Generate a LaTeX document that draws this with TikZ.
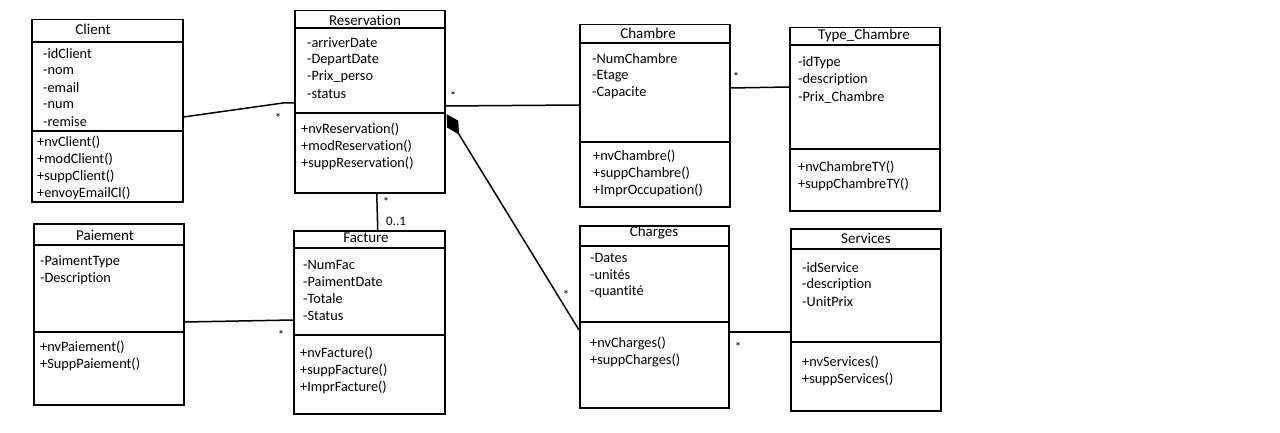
\documentclass[tikz,border=0pt]{standalone}
\usepackage{fontspec}
\setmainfont{Carlito}[Ligatures=NoCommon]
\usetikzlibrary{arrows.meta,calc}
\newcommand\memberlist[4]{%
  \foreach \t [count=\i] in {#4} {\node[txt] (#1\i) at (#2,{#3+17*(\i-1)}) {\t};}}
\begin{document}
\begin{tikzpicture}[x=1pt,y=-1pt,
  box/.style={draw,line width=1.5pt,inner sep=0pt,anchor=north west},
  sep/.style={line width=1.5pt},
  txt/.style={anchor=west,inner sep=0pt,font=\fontsize{14.3}{17}\selectfont},
  ttl/.style={inner sep=0pt,font=\fontsize{15}{18}\selectfont},
  conn/.style={line width=1.5pt},
  mult/.style={inner sep=0pt,font=\fontsize{13}{15}\selectfont}]
\fill[white] (0,0) rectangle (1280,433);
\useasboundingbox (0,0) rectangle (1280,433);

% ---------- Client
\node[box,minimum width=151pt,minimum height=182pt] (Client) at (31,19) {};
\draw[sep] (Client.west |- 0,42) -- (Client.east |- 0,42);
\draw[sep] (Client.west |- 0,131) -- (Client.east |- 0,131);
\node[ttl] (ClientT) at (93,29) {Client};
\memberlist{ca}{43}{54}{-idClient,-nom,-email,-num,-remise}
\memberlist{cm}{37}{142}{+nvClient(),+modClient(),+suppClient(),+envoyEmailCl()}

% ---------- Reservation
\node[box,minimum width=150pt,minimum height=182pt] (Reservation) at (294,10) {};
\draw[sep] (Reservation.west |- 0,28) -- (Reservation.east |- 0,28);
\draw[sep] (Reservation.west |- 0,113) -- (Reservation.east |- 0,113);
\node[ttl] (ReservationT) at (365,20) {Reservation};
\memberlist{ra}{307}{43}{-arriverDate,-DepartDate,-Prix\_perso,-status}
\memberlist{rm}{301}{129}{+nvReservation(),+modReservation(),+suppReservation()}

% ---------- Chambre
\node[box,minimum width=150pt,minimum height=182pt] (Chambre) at (579,24) {};
\draw[sep] (Chambre.west |- 0,43) -- (Chambre.east |- 0,43);
\draw[sep] (Chambre.west |- 0,142) -- (Chambre.east |- 0,142);
\node[ttl] (ChambreT) at (648,33) {Chambre};
\memberlist{cha}{592}{59}{-NumChambre,-Etage,-Capacite}
\memberlist{chm}{593}{156}{+nvChambre(),+suppChambre(),+ImprOccupation()}

% ---------- Type_Chambre
\node[box,minimum width=150pt,minimum height=183pt] (TypeChambre) at (789,27) {};
\draw[sep] (TypeChambre.west |- 0,45) -- (TypeChambre.east |- 0,45);
\draw[sep] (TypeChambre.west |- 0,149) -- (TypeChambre.east |- 0,149);
\node[ttl] (TypeChambreT) at (864,36) {Type\_Chambre};
\memberlist{ta}{798}{63}{-idType,-description,-Prix\_Chambre}
\memberlist{tm}{798}{167}{+nvChambreTY(),+suppChambreTY()}

% ---------- Paiement
\node[box,minimum width=150pt,minimum height=181pt] (Paiement) at (33,223) {};
\draw[sep] (Paiement.west |- 0,245) -- (Paiement.east |- 0,245);
\draw[sep] (Paiement.west |- 0,332) -- (Paiement.east |- 0,332);
\node[ttl] (PaiementT) at (105,235) {Paiement};
\memberlist{pa}{40}{262}{-PaimentType,-Description}
\memberlist{pm}{40}{347}{+nvPaiement(),+SuppPaiement()}

% ---------- Facture
\node[box,minimum width=151pt,minimum height=183pt] (Facture) at (293,230) {};
\draw[sep] (Facture.west |- 0,248) -- (Facture.east |- 0,248);
\draw[sep] (Facture.west |- 0,335) -- (Facture.east |- 0,335);
\node[ttl] (FactureT) at (366,238) {Facture};
\memberlist{fa}{303}{265}{-NumFac,-PaimentDate,-Totale,-Status}
\memberlist{fm}{300}{353}{+nvFacture(),+suppFacture(),+ImprFacture()}

% ---------- Charges
\node[box,minimum width=149pt,minimum height=182pt] (Charges) at (579,225) {};
\draw[sep] (Charges.west |- 0,246) -- (Charges.east |- 0,246);
\draw[sep] (Charges.west |- 0,322) -- (Charges.east |- 0,322);
\node[ttl] (ChargesT) at (654,233) {Charges};
\memberlist{ga}{590}{258}{-Dates,-unités,-quantité}
\memberlist{gm}{590}{343}{+nvCharges(),+suppCharges()}

% ---------- Services
\node[box,minimum width=150pt,minimum height=182pt] (Services) at (790,228) {};
\draw[sep] (Services.west |- 0,249) -- (Services.east |- 0,249);
\draw[sep] (Services.west |- 0,342) -- (Services.east |- 0,342);
\node[ttl] (ServicesT) at (866,238) {Services};
\memberlist{sa}{802}{268}{-idService,-description,-UnitPrix}
\memberlist{sm}{802}{362}{+nvServices(),+suppServices()}

% ---------- connectors
\coordinate (bendCR) at (283,103);
\draw[conn] (Client.east |- 0,117) -- (bendCR) -- (Reservation.west |- 0,103);
\draw[conn] (Reservation.east |- 0,106) -- (Chambre.west |- 0,105);
\draw[conn] (Chambre.east |- 0,88) -- (TypeChambre.west |- 0,87);
\draw[conn] ($(Reservation.south)+(7,0)$) -- ($(Facture.north)+(8.5,0)$);
\draw[conn] (Paiement.east |- 0,322) -- (Facture.west |- 0,320);
\draw[conn,-{Diamond[length=24pt,width=13pt]}] (Charges.west |- 0,330) -- ($(Reservation.east |- 0,114)+(1,0)$);
\draw[conn] (Charges.east |- 0,332) -- (Services.west |- 0,332);

% ---------- multiplicities
\node[mult] (m1) at (278,118) {*};
\node[mult] (m2) at (453,96) {*};
\node[mult] (m3) at (736,77) {*};
\node[mult] (m4) at (386,202) {*};
\node[mult] (m5) at (396,221) {0..1};
\node[mult] (m6) at (281,335) {*};
\node[mult] (m7) at (566,295) {*};
\node[mult] (m8) at (738,347) {*};
\end{tikzpicture}
\end{document}
